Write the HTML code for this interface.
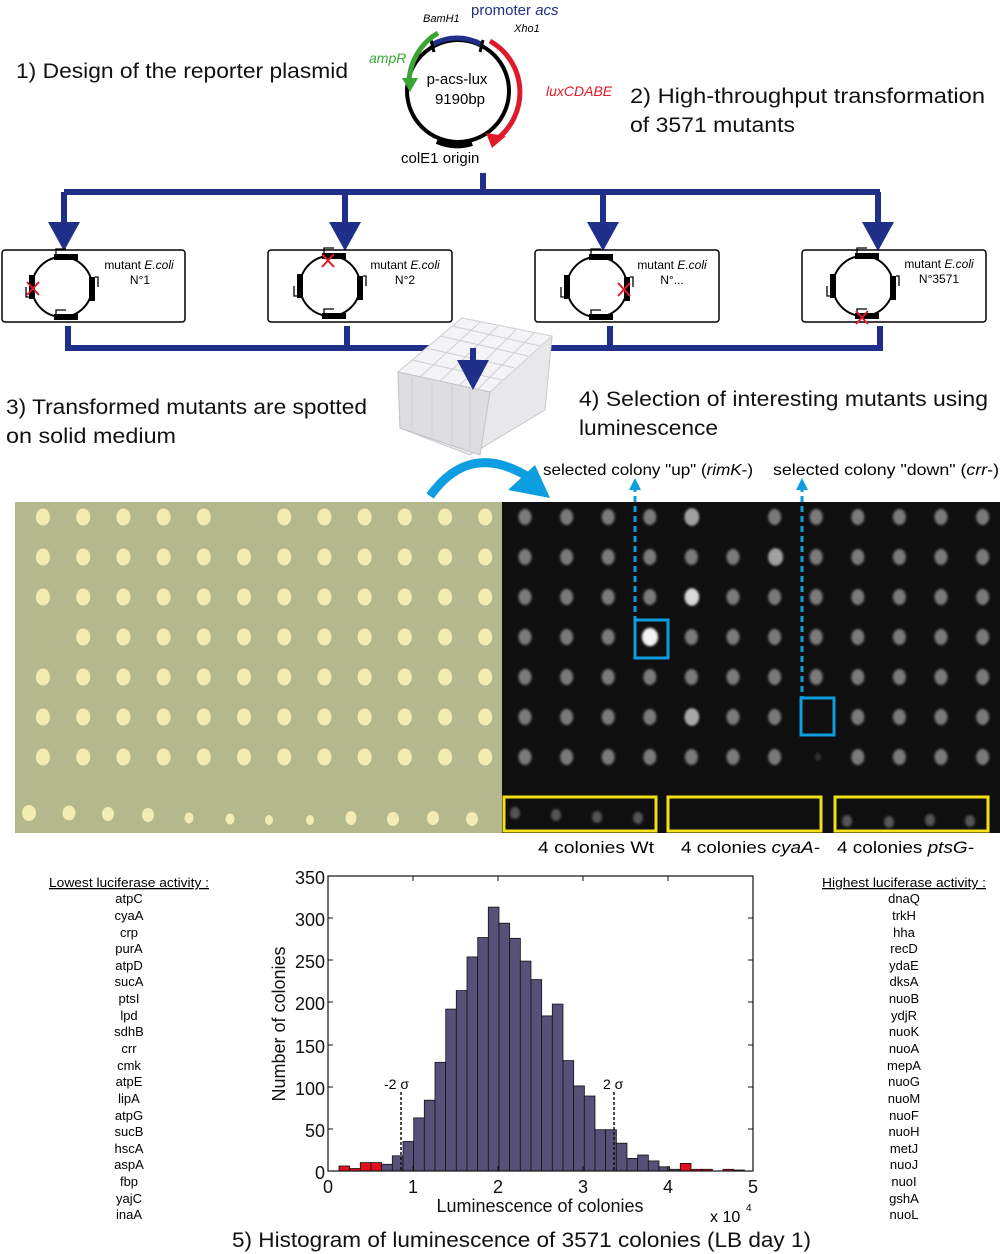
<!DOCTYPE html>
<html><head><meta charset="utf-8"><style>
html,body{margin:0;padding:0;background:#fff;}
svg{display:block;font-family:"Liberation Sans",sans-serif;}
</style></head><body>
<svg width="1000" height="1254" viewBox="0 0 1000 1254" xmlns="http://www.w3.org/2000/svg">
<defs>
<pattern id="pl" patternUnits="userSpaceOnUse" x="23" y="497" width="40.2" height="40">
<ellipse cx="20" cy="20" rx="7" ry="8.5" fill="#f2ecb2"/>
</pattern>
<pattern id="pr" patternUnits="userSpaceOnUse" x="505" y="497" width="41.6" height="40">
<ellipse cx="20" cy="20" rx="6.5" ry="8" fill="#7a7a7a"/>
</pattern>
<filter id="bl"><feGaussianBlur stdDeviation="1.2"/></filter>
<g id="mp">
<circle cx="0" cy="0" r="30" fill="none" stroke="#000" stroke-width="2"/>
<rect x="-8" y="-33" width="24" height="6" fill="#000"/>
<path d="M-6 -33 v-5 h10" fill="none" stroke="#000" stroke-width="1.3"/>
<rect x="-8" y="27" width="24" height="6" fill="#000"/>
<path d="M-6 27 v-4 h10" fill="none" stroke="#000" stroke-width="1.3"/>
<rect x="27" y="-10" width="6" height="24" fill="#000"/>
<path d="M33 -10 h3 v10" fill="none" stroke="#000" stroke-width="1.3"/>
<rect x="-33" y="-12" width="6" height="24" fill="#000"/>
<path d="M-33 10 h-3 v-10" fill="none" stroke="#000" stroke-width="1.3"/>
</g>
</defs>

<!-- titles -->
<g font-size="21" fill="#111">
<text x="16" y="78" textLength="332" lengthAdjust="spacingAndGlyphs">1) Design of the reporter plasmid</text>
<text x="630" y="103" textLength="355" lengthAdjust="spacingAndGlyphs">2) High-throughput transformation</text>
<text x="630" y="132" textLength="165" lengthAdjust="spacingAndGlyphs">of 3571 mutants</text>
<text x="6" y="414" textLength="361" lengthAdjust="spacingAndGlyphs">3) Transformed mutants are spotted</text>
<text x="6" y="443" textLength="170" lengthAdjust="spacingAndGlyphs">on solid medium</text>
<text x="579" y="406" textLength="409" lengthAdjust="spacingAndGlyphs">4) Selection of interesting mutants using</text>
<text x="579" y="435" textLength="139" lengthAdjust="spacingAndGlyphs">luminescence</text>
<text x="232" y="1247" textLength="579" lengthAdjust="spacingAndGlyphs">5) Histogram of  luminescence of 3571 colonies (LB day 1)</text>
</g>

<!-- plasmid -->
<circle cx="458" cy="91" r="51" fill="none" stroke="#000" stroke-width="4"/>
<path d="M432.5 46.4 A50 50 0 0 1 481.5 46.4" fill="none" stroke="#1f2f8a" stroke-width="5" transform="translate(0,-2)"/>
<line x1="431" y1="40" x2="434" y2="52" stroke="#000" stroke-width="3"/>
<line x1="483" y1="40" x2="480" y2="52" stroke="#000" stroke-width="3"/>
<path d="M490 41 A59 59 0 0 1 497 139" fill="none" stroke="#e0192b" stroke-width="5"/>
<polygon points="486,133 506,136 492,148" fill="#e0192b"/>
<path d="M438 33 A59 59 0 0 0 409 82" fill="none" stroke="#3aa535" stroke-width="5"/>
<polygon points="402,78 418,78 410,92" fill="#3aa535"/>
<path d="M437 137 A50 50 0 0 0 472 139" fill="none" stroke="#000" stroke-width="6" transform="translate(0,4)"/>
<text x="457" y="84" font-size="15" text-anchor="middle">p-acs-lux</text>
<text x="460" y="104" font-size="15" text-anchor="middle">9190bp</text>
<text x="471" y="15" font-size="15" fill="#1f2f8a">promoter <tspan font-style="italic">acs</tspan></text>
<text x="423" y="22" font-size="11" font-style="italic">BamH1</text>
<text x="514" y="32" font-size="11" font-style="italic">Xho1</text>
<text x="369" y="63" font-size="14" font-style="italic" fill="#3aa535">ampR</text>
<text x="546" y="96" font-size="14" font-style="italic" fill="#e0192b">luxCDABE</text>
<text x="401" y="163" font-size="15">colE1 origin</text>

<!-- blue tree -->
<g stroke="#1f2f8a" stroke-width="6" fill="none">
<path d="M483 173 V192 M64 192 H880 M64 192 V235 M345 192 V235 M603 192 V235 M878 192 V235"/>
<path d="M68 326 V348 M347 326 V348 M610 326 V348 M880 326 V348 M65 348 H883"/>
</g>
<g fill="#1f2f8a">
<polygon points="48,222 80,222 64,251"/>
<polygon points="329,222 361,222 345,251"/>
<polygon points="587,222 619,222 603,251"/>
<polygon points="862,222 894,222 878,251"/>
</g>

<!-- mutant boxes -->
<g fill="#fff" stroke="#000" stroke-width="1.5">
<rect x="2" y="250" width="183" height="72" rx="3"/>
<rect x="268" y="250" width="184" height="72" rx="3"/>
<rect x="535" y="250" width="184" height="72" rx="3"/>
<rect x="802" y="250" width="184" height="72" rx="3"/>
</g>
<use href="#mp" x="62" y="287"/>
<use href="#mp" x="330" y="286"/>
<use href="#mp" x="597" y="287"/>
<use href="#mp" x="863" y="286"/>
<g stroke="#e0192b" stroke-width="2">
<path d="M27 282 l12 13 M39 282 l-12 13"/>
<path d="M322 254 l12 13 M334 254 l-12 13"/>
<path d="M618 283 l12 13 M630 283 l-12 13"/>
<path d="M856 311 l12 13 M868 311 l-12 13"/>
</g>
<g font-size="12" text-anchor="middle">
<text x="139" y="269">mutant <tspan font-style="italic">E.coli</tspan></text><text x="140" y="284">N°1</text>
<text x="405" y="269">mutant <tspan font-style="italic">E.coli</tspan></text><text x="405" y="284">N°2</text>
<text x="672" y="269">mutant <tspan font-style="italic">E.coli</tspan></text><text x="672" y="284">N°...</text>
<text x="939" y="268">mutant <tspan font-style="italic">E.coli</tspan></text><text x="939" y="283">N°3571</text>
</g>

<!-- 96-well plate -->
<g>
<polygon points="398,372 462,318 552,336 545,410 470,455 400,428" fill="#e8e8ea" stroke="#c8c8cc"/>
<polygon points="398,372 462,318 552,336 490,392" fill="#f4f4f6" stroke="#d0d0d4"/>
<polygon points="398,372 490,392 480,455 400,428" fill="#dedee2" stroke="#c4c4c8"/>
<g stroke="#d0d0d4" stroke-width="1">
<path d="M412 360 L502 380 M426 348 L515 368 M440 336 L528 356 M452 326 L540 346"/>
<path d="M420 377 L480 322 M440 381 L498 326 M460 385 L516 330 M478 389 L534 333"/>
<path d="M412 378 L412 428 M432 382 L432 438 M452 386 L452 444 M470 390 L470 452"/>
</g>
</g>
<line x1="473" y1="348" x2="473" y2="365" stroke="#1f2f8a" stroke-width="6"/>
<polygon points="457,360 489,360 473,390" fill="#1f2f8a"/>

<!-- curved arrow -->
<path d="M430 496 Q470 440 530 478" fill="none" stroke="#0c9ee0" stroke-width="9"/>
<polygon points="535,465 550,498 508,490" fill="#0c9ee0"/>

<text x="543" y="475" font-size="16" textLength="210" lengthAdjust="spacingAndGlyphs">selected colony "up" (<tspan font-style="italic">rimK</tspan>-)</text>
<text x="773" y="475" font-size="16" textLength="226" lengthAdjust="spacingAndGlyphs">selected colony "down" (<tspan font-style="italic">crr</tspan>-)</text>

<!-- photos -->
<rect x="15" y="502" width="487" height="331" fill="#b3b98c"/>
<rect x="502" y="502" width="498" height="331" fill="#0f0f0f"/>
<rect x="23" y="497" width="480" height="280" fill="url(#pl)"/>
<g fill="#b3b98c">
<rect x="230" y="505" width="28" height="25"/>
<rect x="30" y="623" width="28" height="28"/>
</g>
<g fill="#f2ecb2">
<ellipse cx="29" cy="813" rx="7" ry="8"/><ellipse cx="69" cy="813" rx="6.5" ry="7.5"/><ellipse cx="108" cy="814" rx="6" ry="7"/><ellipse cx="148" cy="815" rx="6" ry="7"/><ellipse cx="189" cy="818" rx="4.5" ry="5.5"/><ellipse cx="230" cy="819" rx="4.5" ry="5.5"/><ellipse cx="269" cy="820" rx="4" ry="5"/><ellipse cx="310" cy="820" rx="4" ry="5"/><ellipse cx="351" cy="818" rx="5.5" ry="7"/><ellipse cx="393" cy="819" rx="6" ry="7"/><ellipse cx="433" cy="818" rx="6" ry="7"/><ellipse cx="472" cy="819" rx="6" ry="7"/>
</g>
<g filter="url(#bl)">
<rect x="505" y="497" width="495" height="280" fill="url(#pr)"/>
</g>
<rect x="720" y="503" width="28" height="28" fill="#0f0f0f"/>
<rect x="803" y="700" width="29" height="33" fill="#0f0f0f"/>
<rect x="803" y="742" width="29" height="32" fill="#0f0f0f"/>
<g filter="url(#bl)">
<ellipse cx="650" cy="637" rx="8" ry="9" fill="#f4f4f4"/>
<ellipse cx="692" cy="597" rx="7" ry="8.5" fill="#d8d8d8"/>
<ellipse cx="692" cy="517" rx="7" ry="8.5" fill="#a0a0a0"/>
<ellipse cx="776" cy="557" rx="7" ry="8.5" fill="#a0a0a0"/>
<ellipse cx="692" cy="717" rx="7" ry="8.5" fill="#a8a8a8"/>
<ellipse cx="818" cy="757" rx="3" ry="4" fill="#333"/>
<g fill="#555">
<ellipse cx="515" cy="813" rx="5" ry="6"/><ellipse cx="556" cy="815" rx="5" ry="6"/><ellipse cx="597" cy="817" rx="5" ry="6"/><ellipse cx="638" cy="818" rx="5" ry="6"/>
<ellipse cx="847" cy="821" rx="5" ry="6"/><ellipse cx="889" cy="822" rx="5" ry="6"/><ellipse cx="930" cy="820" rx="5" ry="6"/><ellipse cx="970" cy="821" rx="5" ry="6"/>
</g>
</g>
<g fill="none" stroke="#0c9ee0" stroke-width="3">
<rect x="635" y="620" width="33" height="38"/>
<rect x="801" y="698" width="33" height="37"/>
<path d="M635 486 V620 M802 486 V698" stroke-dasharray="6,4"/>
</g>
<polygon points="629,490 641,490 635,478" fill="#0c9ee0"/>
<polygon points="796,490 808,490 802,478" fill="#0c9ee0"/>
<g fill="none" stroke="#f4e01a" stroke-width="3">
<rect x="504" y="797" width="152" height="34"/>
<rect x="668" y="797" width="153" height="34"/>
<rect x="835" y="797" width="153" height="34"/>
</g>
<g font-size="17">
<text x="538" y="853" textLength="116" lengthAdjust="spacingAndGlyphs">4 colonies Wt</text>
<text x="681" y="853" textLength="139" lengthAdjust="spacingAndGlyphs">4 colonies <tspan font-style="italic">cyaA-</tspan></text>
<text x="837" y="853" textLength="137" lengthAdjust="spacingAndGlyphs">4 colonies <tspan font-style="italic">ptsG-</tspan></text>
</g>

<!-- lists -->
<g font-size="13" text-anchor="middle">
<text x="129" y="887" text-decoration="underline" textLength="160" lengthAdjust="spacingAndGlyphs">Lowest luciferase activity :</text>
<text x="129" y="903">atpC</text><text x="129" y="920">cyaA</text><text x="129" y="937">crp</text><text x="129" y="953">purA</text><text x="129" y="970">atpD</text><text x="129" y="986">sucA</text><text x="129" y="1003">ptsI</text><text x="129" y="1020">lpd</text><text x="129" y="1036">sdhB</text><text x="129" y="1053">crr</text><text x="129" y="1070">cmk</text><text x="129" y="1086">atpE</text><text x="129" y="1103">lipA</text><text x="129" y="1120">atpG</text><text x="129" y="1136">sucB</text><text x="129" y="1153">hscA</text><text x="129" y="1169">aspA</text><text x="129" y="1186">fbp</text><text x="129" y="1203">yajC</text><text x="129" y="1219">inaA</text>
<text x="904" y="887" text-decoration="underline" textLength="164" lengthAdjust="spacingAndGlyphs">Highest luciferase activity :</text>
<text x="904" y="903">dnaQ</text><text x="904" y="920">trkH</text><text x="904" y="937">hha</text><text x="904" y="953">recD</text><text x="904" y="970">ydaE</text><text x="904" y="986">dksA</text><text x="904" y="1003">nuoB</text><text x="904" y="1020">ydjR</text><text x="904" y="1036">nuoK</text><text x="904" y="1053">nuoA</text><text x="904" y="1070">mepA</text><text x="904" y="1086">nuoG</text><text x="904" y="1103">nuoM</text><text x="904" y="1120">nuoF</text><text x="904" y="1136">nuoH</text><text x="904" y="1153">metJ</text><text x="904" y="1169">nuoJ</text><text x="904" y="1186">nuoI</text><text x="904" y="1203">gshA</text><text x="904" y="1219">nuoL</text>
</g>

<!-- histogram -->
<g stroke="#111" stroke-width="0.8">
<rect x="339.0" y="1166" width="10.67" height="5" fill="#e0101e"/>
<rect x="349.7" y="1168.5" width="10.67" height="2.5" fill="#e0101e"/>
<rect x="360.3" y="1162.6" width="10.67" height="8.4" fill="#e0101e"/>
<rect x="371.0" y="1162.6" width="10.67" height="8.4" fill="#e0101e"/>
<g fill="#575078">
<rect x="381.7" y="1164.3" width="10.67" height="6.7"/>
<rect x="392.3" y="1155.8" width="10.67" height="15.2"/>
<rect x="403.0" y="1141.5" width="10.67" height="29.5"/>
<rect x="413.7" y="1117.9" width="10.67" height="53.1"/>
<rect x="424.3" y="1100.2" width="10.67" height="70.8"/>
<rect x="435.0" y="1062.3" width="10.67" height="108.7"/>
<rect x="445.7" y="1009.1" width="10.67" height="161.9"/>
<rect x="456.3" y="990.6" width="10.67" height="180.4"/>
<rect x="467.0" y="956.9" width="10.67" height="214.1"/>
<rect x="477.7" y="937.5" width="10.67" height="233.5"/>
<rect x="488.3" y="907.1" width="10.67" height="263.9"/>
<rect x="499.0" y="923.2" width="10.67" height="247.8"/>
<rect x="509.7" y="938.3" width="10.67" height="232.7"/>
<rect x="520.3" y="961.1" width="10.67" height="209.9"/>
<rect x="531.0" y="979.6" width="10.67" height="191.4"/>
<rect x="541.7" y="1015.9" width="10.67" height="155.1"/>
<rect x="552.3" y="1004.1" width="10.67" height="166.9"/>
<rect x="563.0" y="1060.6" width="10.67" height="110.4"/>
<rect x="573.7" y="1085.9" width="10.67" height="85.1"/>
<rect x="584.3" y="1096.0" width="10.67" height="75.0"/>
<rect x="595.0" y="1129.7" width="10.67" height="41.3"/>
<rect x="605.7" y="1129.7" width="10.67" height="41.3"/>
<rect x="616.3" y="1143.2" width="10.67" height="27.8"/>
<rect x="627.0" y="1158.4" width="10.67" height="12.6"/>
<rect x="637.7" y="1155.0" width="10.67" height="16.0"/>
<rect x="648.3" y="1160.9" width="10.67" height="10.1"/>
<rect x="659.0" y="1166.8" width="10.67" height="4.2"/>
<rect x="669.7" y="1169.3" width="10.67" height="1.7"/>
</g>
<rect x="680.3" y="1163.4" width="10.67" height="7.6" fill="#e0101e"/>
<rect x="691.0" y="1169.3" width="10.67" height="1.7" fill="#e0101e"/>
<rect x="701.7" y="1169.3" width="10.67" height="1.7" fill="#e0101e"/>
<rect x="723.0" y="1169.3" width="10.67" height="1.7" fill="#e0101e"/>
<rect x="733.7" y="1170" width="10.67" height="1" fill="#575078"/>
</g>
<rect x="328" y="876" width="425" height="295" fill="none" stroke="#111" stroke-width="1.2"/>
<g stroke="#111" stroke-width="1">
<path d="M328 1129 h5 M328 1087 h5 M328 1045 h5 M328 1002 h5 M328 960 h5 M328 918 h5 M753 1129 h-5 M753 1087 h-5 M753 1045 h-5 M753 1002 h-5 M753 960 h-5 M753 918 h-5"/>
<path d="M413 1171 v-5 M498 1171 v-5 M583 1171 v-5 M668 1171 v-5 M413 876 v5 M498 876 v5 M583 876 v5 M668 876 v5"/>
<path d="M401 1092 V1171 M614 1092 V1171" stroke-dasharray="3,2" stroke-width="1.5"/>
</g>
<g font-size="18" text-anchor="end" fill="#111">
<text x="325" y="884">350</text><text x="325" y="926">300</text><text x="325" y="968">250</text><text x="325" y="1010">200</text><text x="325" y="1053">150</text><text x="325" y="1095">100</text><text x="325" y="1137">50</text><text x="325" y="1179">0</text>
</g>
<g font-size="18" text-anchor="middle" fill="#111">
<text x="328" y="1193">0</text><text x="413" y="1193">1</text><text x="498" y="1193">2</text><text x="583" y="1193">3</text><text x="668" y="1193">4</text><text x="753" y="1193">5</text>
<text x="540" y="1212">Luminescence of colonies</text>
<text x="285" y="1024" transform="rotate(-90 285 1024)">Number of colonies</text>
</g>
<text x="710" y="1222" font-size="16">x 10</text><text x="746" y="1211" font-size="10">4</text>
<text x="384" y="1089" font-size="14">-2 σ</text>
<text x="603" y="1089" font-size="14">2 σ</text>
</svg>
</body></html>
